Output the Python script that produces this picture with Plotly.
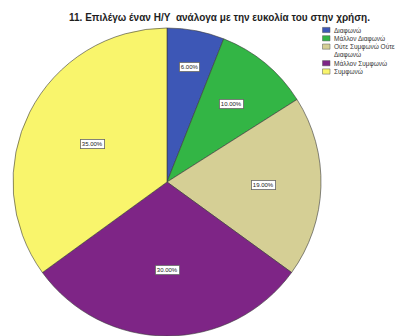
import math
import plotly.graph_objects as go

# Survey answers and their shares (%)
categories = ["Διαφωνώ", "Μάλλον Διαφωνώ", "Ούτε Συμφωνώ Ούτε Διαφωνώ",
              "Μάλλον Συμφωνώ", "Συμφωνώ"]
legend_labels = ["Διαφωνώ", "Μάλλον Διαφωνώ", "Ούτε Συμφωνώ Ούτε<br>Διαφωνώ",
                 "Μάλλον Συμφωνώ", "Συμφωνώ"]
shares = [6.0, 10.0, 19.0, 30.0, 35.0]
colors = ["#3d57b6", "#33b545", "#d5cf95", "#7e2586", "#f9f56c"]
title = "11. Επιλέγω έναν Η/Υ  ανάλογα με την ευκολία του στην χρήση."

W, H = 396, 336
# pie placement in pixels
PIE_L, PIE_R, PIE_T = 13, 321, 28
CX = (PIE_L + PIE_R) / 2
R = (PIE_R - PIE_L) / 2
CY = PIE_T + R

fig = go.Figure()
fig.add_trace(go.Pie(
    labels=categories,
    values=shares,
    sort=False,
    direction="clockwise",
    rotation=0,
    textinfo="none",
    marker=dict(colors=colors, line=dict(color="#3a3a3a", width=0.6)),
    domain=dict(x=[PIE_L / W, PIE_R / W], y=[1 - (PIE_T + 2 * R) / H, 1 - PIE_T / H]),
    showlegend=False,
))

annotations = []
shapes = []

# percentage labels: sector centroid, pushed outward when the slice is narrow
total = sum(shares)
cum = 0.0
BOX_W = 22
for v in shares:
    frac = v / total
    half = math.pi * frac  # half of the sector angle (radians)
    mid = 2 * math.pi * (cum + frac / 2)
    cum += frac
    r_cent = 2 * R * math.sin(half) / (3 * half)
    r_fit = BOX_W / math.sin(half) if half < math.pi / 2 else 0
    r = min(max(r_cent, r_fit), 0.85 * R)
    px = CX + r * math.sin(mid)
    py = CY - r * math.cos(mid)
    annotations.append(dict(
        x=px / W, y=1 - py / H, xref="paper", yref="paper",
        text=f"{v:.2f}%", showarrow=False,
        font=dict(family="Liberation Sans, Arial", size=6, color="#222"),
        bgcolor="white", bordercolor="#666", borderwidth=0.8, borderpad=1,
        xanchor="center", yanchor="middle",
    ))

# title
annotations.append(dict(
    x=219.5 / W, y=1 - 17 / H, xref="paper", yref="paper",
    text=f"<b>{title}</b>", showarrow=False,
    font=dict(family="Liberation Sans, Arial", size=10, color="#1e1e1e"),
    xanchor="center", yanchor="middle",
))

# compact legend drawn at the upper right
LINE_H = 8.3
y_line = 30.0
for lab, col in zip(legend_labels, colors):
    n_lines = lab.count("<br>") + 1
    shapes.append(dict(
        type="rect", xref="paper", yref="paper",
        x0=322.5 / W, x1=330 / W,
        y0=1 - (y_line + 2.6) / H, y1=1 - (y_line - 2.6) / H,
        fillcolor=col, line=dict(color="#555", width=0.5),
    ))
    annotations.append(dict(
        x=333 / W, y=1 - (y_line - LINE_H / 2) / H, xref="paper", yref="paper",
        text=lab, showarrow=False, align="left",
        font=dict(family="Liberation Sans, Arial", size=6.5, color="#333"),
        xanchor="left", yanchor="top", borderpad=0,
    ))
    y_line += LINE_H * n_lines

fig.update_layout(
    width=W, height=H,
    margin=dict(l=0, r=0, t=0, b=0),
    paper_bgcolor="white", plot_bgcolor="white",
    showlegend=False,
    annotations=annotations,
    shapes=shapes,
)

fig.write_html("out.html")
